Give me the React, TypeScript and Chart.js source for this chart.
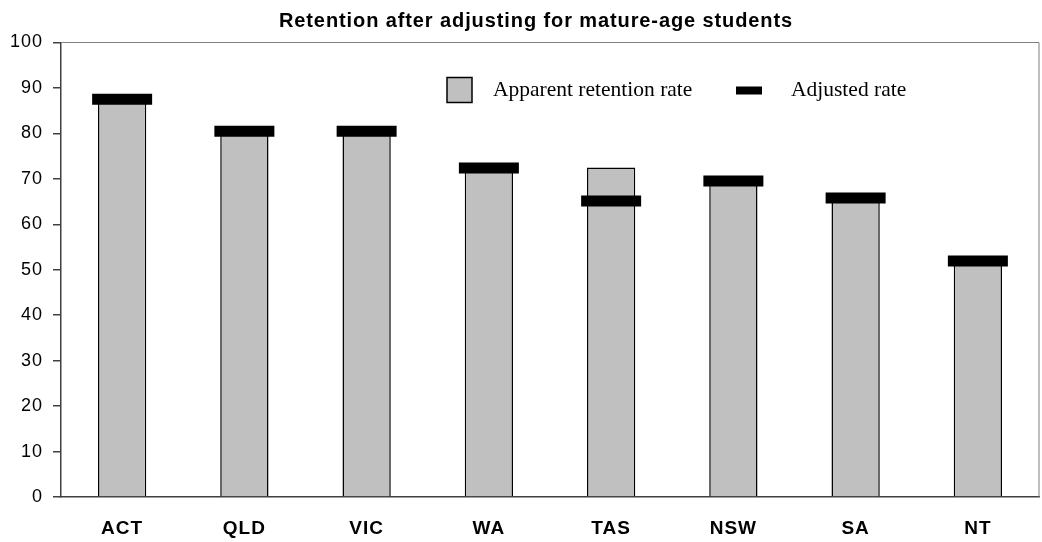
import React, { useEffect, useRef } from "react";
import { Chart, registerables } from "chart.js";

Chart.register(...registerables);

const categories = ["ACT", "QLD", "VIC", "WA", "TAS", "NSW", "SA", "NT"];
const apparentRate = [87, 80, 80, 72, 72.5, 69, 65.3, 51.4];
const adjustedRate = [87.5, 80.5, 80.5, 72.4, 65.1, 69.5, 65.8, 51.9];
const yTickValues = [0, 10, 20, 30, 40, 50, 60, 70, 80, 90, 100];
const titleText = "Retention after adjusting for mature-age students";
const legendLabels = ["Apparent retention rate", "Adjusted rate"];

const SANS = "Arial, 'Liberation Sans', sans-serif";
const SERIF = "'Times New Roman', 'Liberation Serif', serif";

const frameAndLegend = {
  id: "frameAndLegend",
  beforeDraw(chart: any) {
    (chart.ctx as any).letterSpacing = "1px";
  },
  afterDraw(chart: any) {
    const { ctx, chartArea } = chart;
    const { left, top, right } = chartArea;
    ctx.save();
    // top and right frame lines
    ctx.strokeStyle = "#808080";
    ctx.lineWidth = 1;
    ctx.beginPath();
    ctx.moveTo(left, top);
    ctx.lineTo(right, top);
    ctx.lineTo(right, chartArea.bottom);
    ctx.stroke();

    // title
    ctx.fillStyle = "#000";
    (ctx as any).letterSpacing = "0.9px";
    ctx.font = `bold 20px ${SANS}`;
    ctx.textAlign = "center";
    ctx.textBaseline = "alphabetic";
    ctx.fillText(titleText, left + 475, top - 16);

    // legend
    (ctx as any).letterSpacing = "0px";
    const bx = left + 386;
    const by = top + 35;
    ctx.fillStyle = "#c0c0c0";
    ctx.fillRect(bx, by, 25, 25);
    ctx.strokeStyle = "#000";
    ctx.lineWidth = 1.5;
    ctx.strokeRect(bx, by, 25, 25);
    ctx.fillStyle = "#000";
    ctx.font = `21.5px ${SERIF}`;
    ctx.textAlign = "left";
    ctx.fillText(legendLabels[0], bx + 46, top + 53);
    ctx.fillRect(left + 675, top + 44, 26, 8);
    ctx.fillText(legendLabels[1], left + 730, top + 53);
    ctx.restore();
  },
};

export default function App() {
  const ref = useRef<HTMLCanvasElement>(null);

  useEffect(() => {
    if (!ref.current) return;
    const chart = new Chart(ref.current, {
      type: "bar",
      data: {
        labels: categories,
        datasets: [
          {
            type: "line",
            label: legendLabels[1],
            data: adjustedRate,
            showLine: false,
            pointStyle: "line",
            pointRadius: 30,
            pointHoverRadius: 30,
            pointBorderWidth: 11,
            pointHoverBorderWidth: 11,
            pointBorderColor: "#000",
            pointBackgroundColor: "#000",
            borderColor: "#000",
            order: 0,
          } as any,
          {
            type: "bar",
            label: legendLabels[0],
            data: apparentRate,
            backgroundColor: "#c0c0c0",
            borderColor: "#000",
            borderWidth: 1.5,
            categoryPercentage: 1,
            barPercentage: 0.395,
            order: 1,
          },
        ],
      },
      options: {
        animation: false,
        responsive: false,
        events: [],
        layout: { autoPadding: false, padding: { left: 0, right: 3, top: 42.5, bottom: 0 } },
        plugins: {
          legend: { display: false },
          tooltip: { enabled: false },
          title: { display: false },
        },
        scales: {
          x: {
            grid: { display: false, drawTicks: true, tickLength: 20 },
            border: { display: true, color: "#404040", width: 1.5 },
            ticks: {
              color: "#000",
              font: { family: SANS, size: 19, weight: "bold" },
              padding: 0,
              maxRotation: 0,
            },
            afterFit(scale: any) {
              scale.height = 45;
            },
          },
          y: {
            min: 0,
            max: 100,
            afterBuildTicks(scale: any) {
              scale.ticks = yTickValues.map((v) => ({ value: v }));
            },
            grid: {
              display: true,
              drawOnChartArea: false,
              drawTicks: true,
              tickLength: 8,
              color: "#404040",
              lineWidth: 1.5,
            },
            border: { display: true, color: "#404040", width: 1.5 },
            ticks: {
              color: "#000",
              font: { family: SANS, size: 18 },
              padding: 10,
            },
            afterFit(scale: any) {
              scale.width = 61;
            },
          },
        },
      },
      plugins: [frameAndLegend],
    });
    return () => chart.destroy();
  }, []);

  return (
    <div style={{ position: "absolute", left: 0, top: 0, width: 1042, height: 542, background: "#fff" }}>
      <canvas ref={ref} width={1042} height={542} style={{ display: "block" }} />
    </div>
  );
}
